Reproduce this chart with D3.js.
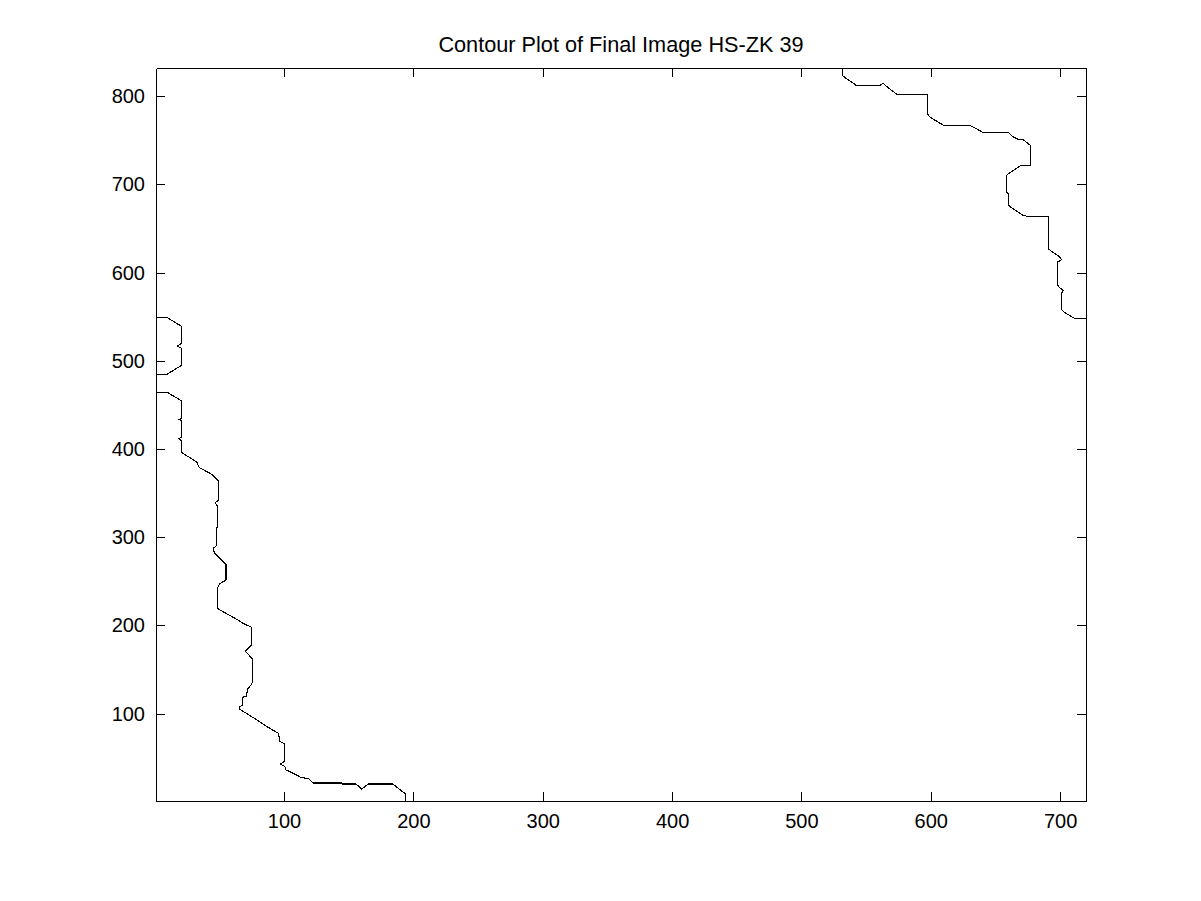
<!DOCTYPE html>
<html>
<head>
<meta charset="utf-8">
<script src="https://cdn.jsdelivr.net/npm/d3@7"></script>
<style>
  body { margin: 0; background: #fff; }
  text { font-family: "Liberation Sans", Arial, sans-serif; fill: #000; }
</style>
</head>
<body>
<div id="chart"></div>
<script>
const title = "Contour Plot of Final Image HS-ZK 39";
const xTicks = [100, 200, 300, 400, 500, 600, 700];
const yTicks = [100, 200, 300, 400, 500, 600, 700, 800];
const xDomain = [1, 720];
const yDomain = [1, 832];

// small lobe on the left edge
const contourA = [
  [1, 549], [9.7, 549], [20.9, 539], [20.9, 520], [17.5, 516.5], [20.9, 514],
  [20.9, 495], [9.7, 485], [1, 485]
];

// long contour from left edge down to the bottom
const contourB = [
  [1, 464.3], [9.7, 464.3], [20.9, 454.5], [20.9, 434.6], [18.8, 433.4], [20.9, 431.8],
  [20.9, 413.7], [18.8, 411.9], [20.9, 409.2], [20.9, 396.7], [22.1, 394.9], [32.5, 385.4],
  [34.2, 379.7], [35, 378.6], [44.1, 371.4], [49.2, 363.9], [49.2, 342], [46.6, 338.9],
  [48.7, 335.2], [48.7, 311.7], [47.9, 310.3], [47.9, 291], [45.3, 287.3], [46.1, 282.3],
  [49.2, 277.8], [51, 274.8], [55.1, 269.5], [55.1, 251.4], [50.5, 247.6], [48.7, 243.1],
  [48.7, 219.3], [49.2, 218.5], [53, 215.5], [62.1, 208], [64.6, 206.1], [68.5, 202.3],
  [75, 197.8], [75, 177.7], [69.8, 170.9], [72.4, 167.2], [75.8, 161.5], [75.8, 136.2],
  [74.4, 132.4], [71.6, 127.5], [71.1, 120], [67.7, 118.5], [67.7, 109.8], [65.4, 107.2],
  [65.9, 104.9], [78.3, 93.6], [86, 86], [95.6, 77.7], [96.9, 68.2], [100, 66.4],
  [100, 45.5], [97.4, 42.9], [100.7, 39.9], [101.5, 36.1], [104.6, 34.2], [113.6, 27.4],
  [118.7, 26.5], [122.6, 21.4], [144.6, 21.4], [145.3, 20.3], [155.6, 20.3], [160, 14.6],
  [165.1, 20.3], [184, 20.3], [191.7, 11.5], [194, 8.9], [194, 1]
];

// contour in the top right corner
const contourC = [
  [531.6, 832], [531.6, 823.5], [535, 819.7], [540.1, 814.8], [542.2, 812.2], [560.7, 812.2],
  [563.3, 814.8], [565.9, 811], [569.8, 806.5], [574.1, 801.9], [597.3, 801.9], [597.3, 780.1],
  [599.4, 776.2], [605.8, 770.6], [610.2, 766.8], [630.3, 766.8], [635.5, 763.1], [639.8, 759.2],
  [659.9, 759.2], [663.3, 754.4], [667.6, 751], [671.5, 750.6], [677.2, 744.2], [677.2, 721.6],
  [669.5, 721.6], [659.9, 712.1], [658.7, 710.2], [658.7, 691.3], [660.4, 688.7], [660.4, 676.2],
  [661.6, 674.5], [666.4, 669.7], [671.5, 664.9], [675.3, 663.7], [690.8, 663.7], [690.8, 627.1],
  [693.5, 624.1], [699.3, 618.4], [701.2, 614.7], [698.1, 612], [698.1, 585.6], [699.9, 582.5],
  [702.4, 579.9], [701.2, 576.8], [701.2, 558], [703.7, 554.6], [711.5, 547.8], [720, 547.8]
];

const width = 1201;
const height = 901;
const margin = { left: 156, right: 115, top: 68, bottom: 100 };
const tickLen = 9;

const svg = d3.select("#chart")
  .append("svg")
  .attr("width", width)
  .attr("height", height);

const x = d3.scaleLinear()
  .domain(xDomain)
  .range([margin.left, width - margin.right]);

const y = d3.scaleLinear()
  .domain(yDomain)
  .range([height - margin.bottom, margin.top]);

const line = d3.line()
  .x(d => x(d[0]))
  .y(d => y(d[1]));

// contour lines
svg.append("g")
  .selectAll("path")
  .data([contourA, contourB, contourC])
  .enter()
  .append("path")
  .attr("d", line)
  .style("fill", "none")
  .style("stroke", "#000")
  .style("stroke-width", 1.1)
  .style("shape-rendering", "crispEdges");

// axes, ticks pointing inward like the original
const bottomAxis = d3.axisBottom(x).tickValues(xTicks).tickSizeInner(-tickLen).tickSizeOuter(0).tickPadding(13);
const topAxis = d3.axisTop(x).tickValues(xTicks).tickSizeInner(-tickLen).tickSizeOuter(0).tickFormat("");
const leftAxis = d3.axisLeft(y).tickValues(yTicks).tickSizeInner(-tickLen).tickSizeOuter(0).tickPadding(11);
const rightAxis = d3.axisRight(y).tickValues(yTicks).tickSizeInner(-tickLen).tickSizeOuter(0).tickFormat("");

const axes = [
  [bottomAxis, `translate(0,${height - margin.bottom})`],
  [topAxis, `translate(0,${margin.top})`],
  [leftAxis, `translate(${margin.left},0)`],
  [rightAxis, `translate(${width - margin.right},0)`]
];

axes.forEach(([ax, tr]) => {
  const g = svg.append("g")
    .attr("transform", tr)
    .call(ax);
  g.selectAll("path, line")
    .style("stroke", "#000")
    .style("shape-rendering", "crispEdges");
  g.selectAll("text")
    .style("font-size", "20px")
    .style("font-family", "'Liberation Sans', Arial, sans-serif")
    .style("fill", "#000");
});

svg.append("text")
  .attr("x", (margin.left + width - margin.right) / 2)
  .attr("y", 52)
  .attr("text-anchor", "middle")
  .style("font-size", "21.7px")
  .text(title);
</script>
</body>
</html>
